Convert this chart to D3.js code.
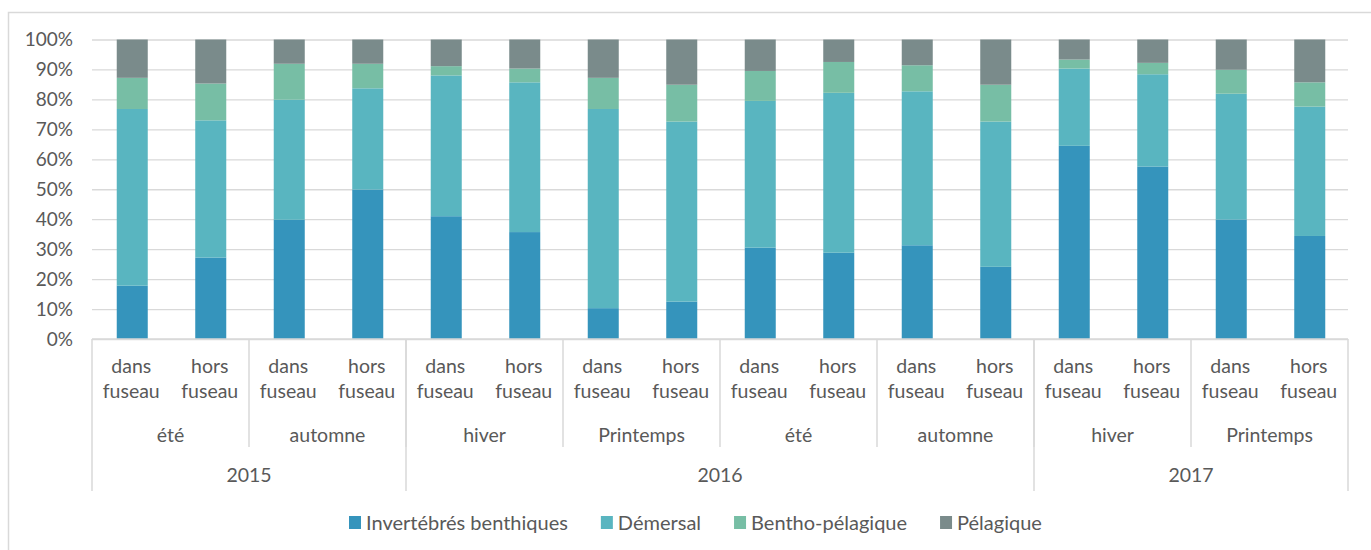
<!doctype html>
<html>
  <head>
    <meta charset="utf-8">
    <script src="https://cdnjs.cloudflare.com/ajax/libs/d3/7.8.5/d3.min.js"></script>
  <style>
    body { margin: 0; background: #fff; }
    text { font-family: Lato, "Open Sans", sans-serif; fill: #595959; }
  </style>
  </head>
  <body>
    <svg id="chart" width="1371" height="550"></svg>
    <script>
      // categories: year > season > zone
      var years = [["2015", 2], ["2016", 4], ["2017", 2]];   // [label, number of seasons]
      var seasons = ["été", "automne", "hiver", "Printemps", "été", "automne", "hiver", "Printemps"];
      var zones = [["dans", "fuseau"], ["hors", "fuseau"]];

      var seriesNames = ["Invertébrés benthiques", "Démersal", "Bentho-pélagique", "Pélagique"];
      var colors = ["#3594bc", "#59b5c0", "#77bea5", "#7a8b8b"];

      // share (%) per bar, left to right
      var benthiques = [17.8, 27.2, 39.8, 49.9, 41.0, 35.7, 10.3, 12.5, 30.5, 28.8, 31.3, 24.1, 64.5, 57.6, 39.9, 34.4];
      var demersal   = [59.0, 45.8, 40.1, 33.8, 47.0, 50.0, 66.5, 60.1, 49.0, 53.4, 51.4, 48.5, 25.8, 30.8, 42.0, 43.2];
      var bentho     = [10.4, 12.3, 12.0,  8.2,  3.1,  4.6, 10.4, 12.3, 10.0, 10.3,  8.7, 12.3,  3.0,  3.8,  8.0,  8.1];
      var pelagique  = [12.8, 14.7,  8.1,  8.1,  8.9,  9.7, 12.8, 15.1, 10.5,  7.5,  8.6, 15.1,  6.7,  7.8, 10.1, 14.3];

      var yTicks = [0, 10, 20, 30, 40, 50, 60, 70, 80, 90, 100];

      var bars = benthiques.map(function(v, i) {
        return {id: i, zone: zones[i % 2], b: v, d: demersal[i], bp: bentho[i], p: pelagique[i]};
      });

      var svg = d3.select("#chart");
      var grid = "#d9d9d9";

      var plotL = 92, plotR = 1348, plotT = 39.5, plotB = 339;

      // outer border of the chart area
      svg.append("path")
        .attr("d", "M8.5,550 V12.5 H1371")
        .attr("fill", "none")
        .attr("stroke", grid)
        .attr("stroke-width", 1.5);

      var x = d3.scaleBand()
        .domain(bars.map(d => d.id))
        .range([plotL, plotR])
        .paddingInner(0.605)
        .paddingOuter(0.3025);
      var step = x.step();

      var y = d3.scaleLinear().domain([0, 100]).range([plotB, plotT]);

      // gridlines + y labels
      var yAxis = d3.axisLeft(y)
        .tickValues(yTicks)
        .tickSize(-(plotR - plotL))
        .tickPadding(19)
        .tickFormat(d => d + "%");

      var yG = svg.append("g")
        .attr("transform", "translate(" + plotL + ",0)")
        .call(yAxis);
      yG.select(".domain").remove();
      yG.selectAll(".tick line").attr("stroke", grid).attr("stroke-width", 1.3);
      yG.selectAll(".tick text")
        .style("font-size", "19px")
        .style("font-family", "Lato, sans-serif")
        .attr("fill", "#595959");

      // stacked bars
      var stack = d3.stack().keys(["b", "d", "bp", "p"]);
      var layers = stack(bars);

      svg.append("g").selectAll("g")
        .data(layers)
        .join("g")
          .attr("fill", (d, i) => colors[i])
        .selectAll("rect")
        .data(d => d)
        .join("rect")
          .attr("x", d => x(d.data.id) + 1)
          .attr("width", x.bandwidth())
          .attr("y", d => y(Math.min(100, d[1])))
          .attr("height", d => y(d[0]) - y(Math.min(100, d[1])));

      // category axis
      var ax = svg.append("g");
      ax.append("line")
        .attr("x1", plotL).attr("x2", plotR)
        .attr("y1", plotB).attr("y2", plotB)
        .attr("stroke", grid).attr("stroke-width", 1.5);

      // level 1: zone labels
      var lab = ax.selectAll("text.zone")
        .data(bars)
        .join("text")
          .attr("class", "zone")
          .attr("text-anchor", "middle")
          .style("font-size", "19.5px");
      lab.append("tspan").attr("y", 373).attr("x", d => x(d.id) + x.bandwidth() / 2).text(d => d.zone[0]);
      lab.append("tspan").attr("y", 398).attr("x", d => x(d.id) + x.bandwidth() / 2).text(d => d.zone[1]);

      // level 2: seasons
      function bandStart(i) { return x(i) - step * 0.3025; }
      seasons.forEach(function(s, k) {
        var x0 = bandStart(k * 2), x1 = x0 + step * 2;
        ax.append("text")
          .attr("x", (x0 + x1) / 2).attr("y", 442)
          .attr("text-anchor", "middle")
          .style("font-size", "19.5px")
          .text(s);
        if (k > 0) {
          ax.append("line")
            .attr("x1", x0).attr("x2", x0).attr("y1", plotB).attr("y2", 447)
            .attr("stroke", grid).attr("stroke-width", 1.5);
        }
      });

      // level 3: years
      var pos = 0;
      years.forEach(function(yr) {
        var x0 = bandStart(pos * 2), x1 = x0 + step * 2 * yr[1];
        ax.append("text")
          .attr("x", (x0 + x1) / 2).attr("y", 482)
          .attr("text-anchor", "middle")
          .style("font-size", "19.5px")
          .text(yr[0]);
        ax.append("line")
          .attr("x1", x0).attr("x2", x0).attr("y1", plotB).attr("y2", 491)
          .attr("stroke", grid).attr("stroke-width", 1.5);
        pos += yr[1];
      });
      ax.append("line")
        .attr("x1", plotR).attr("x2", plotR).attr("y1", plotB).attr("y2", 491)
        .attr("stroke", grid).attr("stroke-width", 1.5);

      // legend
      var lg = svg.append("g").attr("transform", "translate(349,516)");
      var lx = 0;
      seriesNames.forEach(function(name, i) {
        lg.append("rect")
          .attr("x", lx).attr("y", 0)
          .attr("width", 12).attr("height", 13)
          .attr("fill", colors[i]);
        var t = lg.append("text")
          .attr("x", lx + 17).attr("y", 14)
          .style("font-size", "20px")
          .text(name);
        lx += 17 + t.node().getComputedTextLength() + 33;
      });
    </script>
  </body>
</html>
